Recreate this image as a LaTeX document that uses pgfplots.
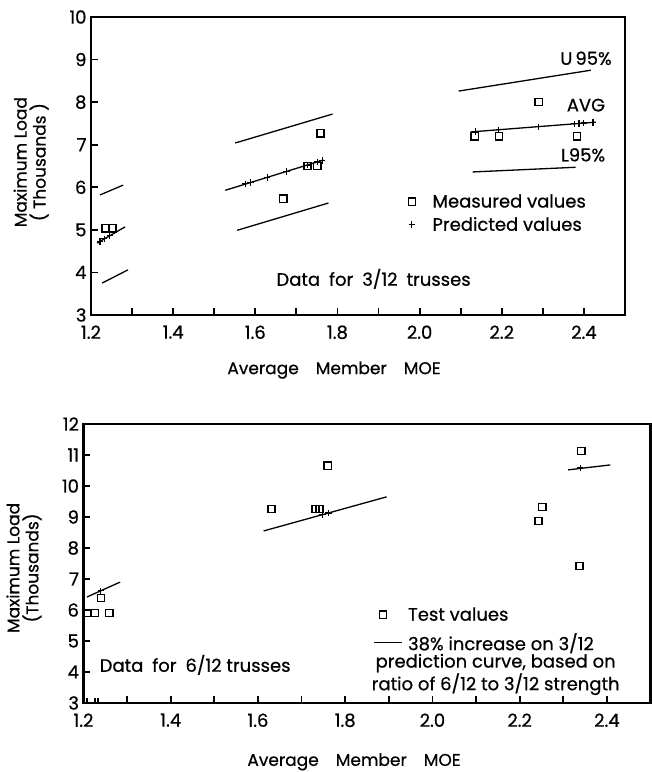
\documentclass[border=0pt]{standalone}
\usepackage{fontspec}
\setmainfont{Poppins}[UprightFeatures={FakeBold=0.6}]
\usepackage{pgfplots}
\pgfplotsset{compat=1.18}
\newcommand{\fs}{\fontsize{18pt}{20pt}\selectfont}
\pgfplotsset{
  every tick/.style={black, line width=1.8pt},
  common/.style={
    scale only axis, anchor=south west,
    xmin=1.2, xmax=2.5,
    axis background/.style={draw=black, line width=2.4pt},
    tick align=inside, tick pos=left, major tick length=7pt,
    /pgf/number format/assume math mode=true,
    tick label style={font=\fs},
    xtick={1.2,1.3,1.4,1.5,1.6,1.7,1.8,1.9,2.0,2.1,2.2,2.3,2.4},
    xticklabels={1.2,,1.4,,1.6,,1.8,,2.0,,2.2,,2.4},
    xticklabel style={yshift=-7pt},
    yticklabel style={xshift=-1pt},
    label style={font=\fontsize{17pt}{19pt}\selectfont},
    clip=false,
  },
  sq/.style={only marks, mark=square, mark size=3.6pt, line width=1.5pt, black},
  pl/.style={only marks, mark=+, mark size=3.2pt, line width=1.1pt, black},
  ln/.style={black, line width=1.3pt, forget plot},
  tk/.style={black, line width=1.8pt, forget plot, -},
  lineleg/.style={legend image code/.code={\draw[##1] (0pt,0pt) -- (28pt,0pt);}},
}
\begin{document}
\begin{tikzpicture}
\useasboundingbox (0pt,0pt) rectangle (652pt,772pt);
% ---------------- top panel ----------------
\begin{axis}[common, at={(91pt,457pt)}, width=534pt, height=298pt,
  ymin=3, ymax=10, ytick={3,4,5,6,7,8,9,10},
  xlabel={Average\quad Member\quad MOE},
  xlabel style={at={(axis description cs:0.455,-0.185)}, anchor=center},
  ylabel={Maximum Load\\( Thousands )},
  ylabel style={at={(axis description cs:-0.112,0.513)}, anchor=center, align=center},
  legend style={at={(axis cs:1.972,5.39)}, anchor=west, draw=none, fill=none,
    font=\fs, inner sep=0pt, row sep=4pt,
    /tikz/every odd column/.append style={column sep=15pt}},
  legend cell align=left,
]
\addplot[sq] coordinates {(1.235,5.04) (1.252,5.04) (1.668,5.73) (1.727,6.50) (1.751,6.50)
  (1.759,7.27) (2.134,7.20) (2.193,7.20) (2.290,8.00) (2.383,7.20)};
\addlegendentry{Measured values}
\addplot[pl] coordinates {(1.222,4.73) (1.232,4.79) (1.246,4.87)
  (1.576,6.08) (1.588,6.11) (1.629,6.23) (1.676,6.37) (1.727,6.52) (1.751,6.60) (1.763,6.63)
  (2.137,7.31) (2.193,7.35) (2.290,7.42) (2.376,7.49) (2.388,7.50) (2.400,7.51) (2.422,7.52)};
\addlegendentry{Predicted values}
% tick marks (inward)
\addplot[tk, quiver={u=0, v=0.164}] coordinates {(1.3,3) (1.4,3) (1.5,3) (1.6,3) (1.7,3)
  (1.8,3) (1.9,3) (2.0,3) (2.1,3) (2.2,3) (2.3,3) (2.4,3)};
\addplot[tk, quiver={u=0.017, v=0}] coordinates {(1.2,4) (1.2,5) (1.2,6) (1.2,7) (1.2,8) (1.2,9)};
% U95
\addplot[ln] coordinates {(1.222,5.82) (1.278,6.05)};
\addplot[ln] coordinates {(1.551,7.04) (1.788,7.72)};
\addplot[ln] coordinates {(2.095,8.26) (2.417,8.75)};
% AVG
\addplot[ln] coordinates {(1.215,4.69) (1.283,5.07)};
\addplot[ln] coordinates {(1.527,5.93) (1.766,6.64)};
\addplot[ln] coordinates {(2.124,7.30) (2.429,7.53)};
% L95
\addplot[ln] coordinates {(1.227,3.75) (1.290,4.06)};
\addplot[ln] coordinates {(1.556,4.99) (1.778,5.63)};
\addplot[ln] coordinates {(2.129,6.36) (2.380,6.47)};
\node[font=\fs] at (axis cs:2.405,9.03) {U\,95\%};
\node[font=\fs] at (axis cs:2.405,7.93) {AVG};
\node[font=\fs] at (axis cs:2.398,6.76) {L95\%};
\node[font=\fs] at (axis cs:1.888,3.85) {Data\enspace for\enspace 3/12\enspace trusses};
\end{axis}
% ---------------- bottom panel ----------------
\begin{axis}[common, at={(83.5pt,69pt)}, width=567pt, height=279pt,
  ymin=3, ymax=12, ytick={3,4,5,6,7,8,9,10,11,12},
  xlabel={Average\quad Member\quad MOE},
  xlabel style={at={(axis description cs:0.477,-0.211)}, anchor=center},
  ylabel={Maximum Load\\(Thousands)},
  ylabel style={at={(axis description cs:-0.105,0.484)}, anchor=center, align=center},
  legend style={at={(axis cs:1.865,5.37)}, anchor=west, draw=none, fill=none,
    font=\fs, inner sep=0pt, row sep=7pt,
    /tikz/every odd column/.append style={column sep=3pt}},
  legend cell align=left,
]
\addplot[sq] coordinates {(1.210,5.90) (1.226,5.90) (1.259,5.90) (1.240,6.39)
  (1.631,9.26) (1.732,9.26) (1.741,9.26) (1.760,10.65)
  (2.252,9.32) (2.243,8.87) (2.341,11.13) (2.337,7.42)};
\addlegendentry{Test values}
\addplot[black, line width=1.3pt, lineleg]
  coordinates {(1.208,6.42) (1.284,6.90)};
\addlegendentry{38\% increase on 3/12}
% tick marks (inward)
\addplot[tk, quiver={u=0, v=0.226}] coordinates {(1.3,3) (1.4,3) (1.5,3) (1.6,3) (1.7,3)
  (1.8,3) (1.9,3) (2.0,3) (2.1,3) (2.2,3) (2.3,3) (2.4,3)};
\addplot[tk, line width=1.5pt, quiver={u=0, v=0.17}] coordinates {(1.208,3) (1.226,3) (1.233,3)};
\addplot[tk, quiver={u=0.016, v=0}] coordinates {(1.2,4) (1.2,5) (1.2,6) (1.2,7) (1.2,8)
  (1.2,9) (1.2,10) (1.2,11)};
\addplot[ln] coordinates {(1.613,8.55) (1.895,9.65)};
\addplot[ln] coordinates {(2.311,10.52) (2.408,10.68)};
\addplot[pl, forget plot] coordinates {(1.240,6.62) (1.748,9.08) (1.762,9.13) (2.339,10.58)};
\node[align=center, inner sep=0pt, font={\fontsize{18pt}{16pt}\selectfont}]
  at (axis cs:2.145,3.92) {prediction curve, based on\\ratio of 6/12 to 3/12 strength};
\node[font=\fs] at (axis cs:1.456,4.23) {Data\enspace for\enspace 6/12 trusses};
\end{axis}
\end{tikzpicture}
\end{document}
